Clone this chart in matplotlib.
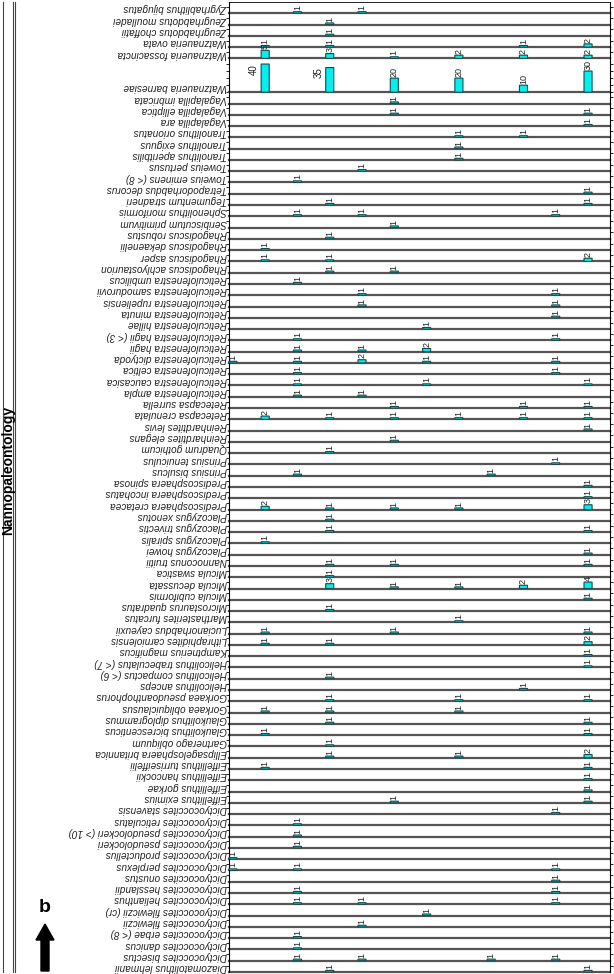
import matplotlib.pyplot as plt
from matplotlib.lines import Line2D
from matplotlib.patches import FancyArrow
from matplotlib.transforms import IdentityTransform

# species (top to bottom) and counts per sample (12 samples, left to right)
species = [
    "Zygrhablithus bijugatus", "Zeugrhabdotus moulladei", "Zeugrhabdotus choffatii",
    "Watznaueria ovata", "Watznaueria fossacincta", "Watznaueria barnesiae",
    "Vagalapilla imbricata", "Vagalapilla elliptica", "Vagalapilla ara",
    "Tranolithus orionatus", "Tranolithus exiguus", "Tranolithus aperitbilis",
    "Toweius pertusus", "Toweius eminens (< 8)", "Tetrapodorhabdus decorus",
    "Tegumentum stradneri", "Sphenolithus moriformis", "Seribiscutum primitivum",
    "Rhagodiscus robustus", "Rhagodiscus dekaenelii", "Rhagodiscus asper",
    "Rhagodiscus achlyostaurion", "Reticulofenestra umbilicus", "Reticulofenestra samodurovii",
    "Reticulofenestra rupeliensis", "Reticulofenestra minuta", "Reticulofenestra hillae",
    "Reticulofenestra hagii (< 3)", "Reticulofenestra hagii", "Reticulofenestra dictyoda",
    "Reticulofenestra celtica", "Reticulofenestra caucasica", "Reticulofenestra ampla",
    "Retecapsa surrella", "Retecapsa crenulata", "Reinhardtites levis",
    "Reinhardtites elegans", "Quadrum gothicum", "Prinsius tenuiculus",
    "Prinsius bisulcus", "Prediscosphaera spinosa", "Prediscosphaera incohatus",
    "Prediscosphaera cretacea", "Placozygus xenotus", "Placozygus trivectis",
    "Placozygus spiralis", "Placozygus howei", "Nannoconus truitii",
    "Micula swastica", "Micula decussata", "Micula cubiformis",
    "Microstaurus quadratus", "Marthasterites furcatus", "Lucianorhabdus cayeuxii",
    "Lithraphidites carniolensis", "Kamptnerius magnificus", "Helicolithus trabeculatus (< 7)",
    "Helicolithus compactus (< 6)", "Helicolithus anceps", "Gorkaea pseudoanthophorus",
    "Gorkaea obliquiclausus", "Glaukolithus diplogrammus", "Glaukolithus bicrescenticus",
    "Gartnerago obliquum", "Ellipsagelosphaera britannica", "Eiffellithus turriseiffelii",
    "Eiffellithus hancockii", "Eiffellithus gorkae", "Eiffellithus eximius",
    "Dictyococcites stavensis", "Dictyococcites reticulatus", "Dictyococcites pseudolockeri (> 10)",
    "Dictyococcites pseudolockeri", "Dictyococcites productellus", "Dictyococcites perplexus",
    "Dictyococcites onustus", "Dictyococcites hesslandii", "Dictyococcites helianthus",
    "Dictyococcites filewiczii (cr)", "Dictyococcites filewiczii", "Dictyococcites erbae (< 8)",
    "Dictyococcites danicus", "Dictyococcites bisectus", "Diazomatolithus lehmanii",
]

counts = [
    [0, 0, 1, 0, 1, 0, 0, 0, 0, 0, 0, 0],
    [0, 0, 0, 1, 0, 0, 0, 0, 0, 0, 0, 0],
    [0, 0, 0, 1, 0, 0, 0, 0, 0, 0, 0, 0],
    [0, 1, 0, 1, 0, 0, 0, 0, 0, 1, 0, 2],
    [0, 5, 0, 3, 0, 1, 0, 2, 0, 2, 0, 2],
    [0, 40, 0, 35, 0, 20, 0, 20, 0, 10, 0, 30],
    [0, 0, 0, 0, 0, 1, 0, 0, 0, 0, 0, 0],
    [0, 0, 0, 0, 0, 1, 0, 0, 0, 0, 0, 1],
    [0, 0, 0, 0, 0, 0, 0, 0, 0, 0, 0, 1],
    [0, 0, 0, 0, 0, 0, 0, 1, 0, 1, 0, 0],
    [0, 0, 0, 0, 0, 0, 0, 1, 0, 0, 0, 0],
    [0, 0, 0, 0, 0, 0, 0, 1, 0, 0, 0, 0],
    [0, 0, 0, 0, 1, 0, 0, 0, 0, 0, 0, 0],
    [0, 0, 1, 0, 0, 0, 0, 0, 0, 0, 0, 0],
    [0, 0, 0, 0, 0, 0, 0, 0, 0, 0, 0, 1],
    [0, 0, 0, 1, 0, 0, 0, 0, 0, 0, 0, 1],
    [0, 0, 1, 0, 1, 0, 0, 0, 0, 0, 1, 0],
    [0, 0, 0, 0, 0, 1, 0, 0, 0, 0, 0, 0],
    [0, 0, 0, 1, 0, 0, 0, 0, 0, 0, 0, 0],
    [0, 1, 0, 0, 0, 0, 0, 0, 0, 0, 0, 0],
    [0, 1, 0, 1, 0, 0, 0, 0, 0, 0, 0, 2],
    [0, 0, 0, 1, 0, 1, 0, 0, 0, 0, 0, 0],
    [0, 0, 1, 0, 0, 0, 0, 0, 0, 0, 0, 0],
    [0, 0, 0, 0, 1, 0, 0, 0, 0, 0, 1, 0],
    [0, 0, 0, 0, 1, 0, 0, 0, 0, 0, 1, 0],
    [0, 0, 0, 0, 0, 0, 0, 0, 0, 0, 1, 0],
    [0, 0, 0, 0, 0, 0, 1, 0, 0, 0, 0, 0],
    [0, 0, 1, 0, 0, 0, 0, 0, 0, 0, 1, 0],
    [0, 0, 1, 0, 1, 0, 2, 0, 0, 0, 0, 0],
    [1, 0, 1, 0, 2, 0, 1, 0, 0, 0, 1, 0],
    [0, 0, 1, 0, 0, 0, 0, 0, 0, 0, 1, 0],
    [0, 0, 1, 0, 0, 0, 1, 0, 0, 0, 0, 1],
    [0, 0, 1, 0, 1, 0, 0, 0, 0, 0, 0, 0],
    [0, 0, 0, 0, 0, 1, 0, 0, 0, 1, 0, 1],
    [0, 2, 0, 1, 0, 1, 0, 1, 0, 1, 0, 1],
    [0, 0, 0, 0, 0, 0, 0, 0, 0, 0, 0, 1],
    [0, 0, 0, 0, 0, 1, 0, 0, 0, 0, 0, 0],
    [0, 0, 0, 1, 0, 0, 0, 0, 0, 0, 0, 0],
    [0, 0, 0, 0, 0, 0, 0, 0, 0, 0, 1, 0],
    [0, 0, 1, 0, 0, 0, 0, 0, 1, 0, 0, 0],
    [0, 0, 0, 0, 0, 0, 0, 0, 0, 0, 0, 1],
    [0, 0, 0, 0, 0, 0, 0, 0, 0, 0, 0, 1],
    [0, 2, 0, 1, 0, 1, 0, 1, 0, 0, 0, 3],
    [0, 0, 0, 1, 0, 0, 0, 0, 0, 0, 0, 0],
    [0, 0, 0, 1, 0, 0, 0, 0, 0, 0, 0, 1],
    [0, 1, 0, 0, 0, 0, 0, 0, 0, 0, 0, 0],
    [0, 0, 0, 0, 0, 0, 0, 0, 0, 0, 0, 1],
    [0, 0, 0, 1, 0, 1, 0, 0, 0, 0, 0, 1],
    [0, 0, 0, 1, 0, 0, 0, 0, 0, 0, 0, 0],
    [0, 0, 0, 3, 0, 1, 0, 1, 0, 2, 0, 4],
    [0, 0, 0, 0, 0, 0, 0, 0, 0, 0, 0, 1],
    [0, 0, 0, 1, 0, 0, 0, 0, 0, 0, 0, 0],
    [0, 0, 0, 0, 0, 0, 0, 1, 0, 0, 0, 0],
    [0, 1, 0, 0, 0, 1, 0, 0, 0, 0, 0, 1],
    [0, 1, 0, 1, 0, 0, 0, 0, 0, 0, 0, 2],
    [0, 0, 0, 0, 0, 0, 0, 0, 0, 0, 0, 1],
    [0, 0, 0, 0, 0, 0, 0, 0, 0, 0, 0, 1],
    [0, 0, 0, 1, 0, 0, 0, 0, 0, 0, 0, 0],
    [0, 0, 0, 0, 0, 0, 0, 0, 0, 1, 0, 0],
    [0, 0, 0, 1, 0, 0, 0, 1, 0, 0, 0, 1],
    [0, 1, 0, 1, 0, 0, 0, 1, 0, 0, 0, 0],
    [0, 0, 0, 1, 0, 0, 0, 0, 0, 0, 0, 1],
    [0, 1, 0, 0, 0, 0, 0, 0, 0, 0, 0, 1],
    [0, 0, 0, 1, 0, 0, 0, 0, 0, 0, 0, 0],
    [0, 0, 0, 1, 0, 0, 0, 1, 0, 0, 0, 2],
    [0, 1, 0, 0, 0, 0, 0, 0, 0, 0, 0, 1],
    [0, 0, 0, 0, 0, 0, 0, 0, 0, 0, 0, 1],
    [0, 0, 0, 0, 0, 0, 0, 0, 0, 0, 0, 1],
    [0, 0, 0, 0, 0, 1, 0, 0, 0, 0, 0, 1],
    [0, 0, 0, 0, 0, 0, 0, 0, 0, 0, 1, 0],
    [0, 0, 1, 0, 0, 0, 0, 0, 0, 0, 0, 0],
    [0, 0, 1, 0, 0, 0, 0, 0, 0, 0, 0, 0],
    [0, 0, 1, 0, 0, 0, 0, 0, 0, 0, 0, 0],
    [1, 0, 0, 0, 0, 0, 0, 0, 0, 0, 0, 0],
    [1, 0, 1, 0, 0, 0, 0, 0, 0, 0, 1, 0],
    [0, 0, 0, 0, 0, 0, 0, 0, 0, 0, 1, 0],
    [0, 0, 1, 0, 0, 0, 0, 0, 0, 0, 1, 0],
    [0, 0, 1, 0, 1, 0, 0, 0, 0, 0, 1, 0],
    [0, 0, 0, 0, 0, 0, 1, 0, 0, 0, 0, 0],
    [0, 0, 0, 0, 1, 0, 0, 0, 0, 0, 0, 0],
    [0, 0, 1, 0, 0, 0, 0, 0, 0, 0, 0, 0],
    [0, 0, 1, 0, 0, 0, 0, 0, 0, 0, 0, 0],
    [0, 0, 1, 0, 1, 0, 0, 0, 1, 0, 1, 0],
    [0, 0, 0, 1, 0, 0, 0, 0, 0, 0, 0, 1],
]

W, H = 614, 974
fig = plt.figure(figsize=(W / 100, H / 100), dpi=100)
plt.rcParams['font.family'] = ['Liberation Sans', 'DejaVu Sans']

x0, x1 = 229, 610   # plot columns in pixels
top, bottom = 2, 972
sizes = [3 if max(c) > 16 else 1 for c in counts]
row_px = (bottom - top) / sum(sizes)

y = top
for k, (name, vals, s) in enumerate(zip(species, counts, sizes)):
    h = s * row_px
    ax = fig.add_axes([x0 / W, 1 - (y + h) / H, (x1 - x0) / W, h / H])
    y += h
    ax.patch.set_alpha(0)
    idx = [i for i, v in enumerate(vals) if v > 0]
    hv = [vals[i] for i in idx]
    bars = ax.bar(idx, hv, width=0.25, color='#00f0f0', edgecolor='#1a4a4a', linewidth=0.8,
                  zorder=3, clip_on=False)
    for b in bars:
        b.set_snap(False)
    for i, v in zip(idx, hv):
        if v > 30:
            ax.annotate(str(v), (i - 0.13, v), xytext=(-1.5, 0), textcoords='offset points',
                        rotation=90, ha='right', va='top', fontsize=7, color='#222222',
                        annotation_clip=False)
        else:
            ax.annotate(str(v), (i, v), xytext=(0, 1), textcoords='offset points',
                        rotation=90, ha='center', va='bottom', fontsize=6.5, color='#222222',
                        annotation_clip=False)
    ax.set_xlim(-0.12, 11.68)
    if s > 1:
        ax.set_ylim(0, 48)
        ax.set_yticks([0, 10, 20, 30, 40])
    else:
        ax.set_ylim(0, 7)
        ax.set_yticks([4])
    ax.set_xticks([])
    ax.tick_params(axis='y', left=True, right=True, labelleft=False, labelright=False,
                   direction='out', length=2.5, width=0.6)
    ax.spines['bottom'].set_linewidth(1.6)
    ax.spines['bottom'].set_color('#555555')
    ax.spines['bottom'].set_zorder(2)
    ax.spines['top'].set_linewidth(0.6)
    ax.spines['top'].set_visible(k == 0)
    ax.spines['left'].set_linewidth(0.8)
    ax.spines['right'].set_linewidth(0.8)
    ax.annotate(name, xy=(0, 0), xycoords='axes fraction', xytext=(-1.5, 3.5),
                textcoords='offset points', rotation=180, ha='right', va='center',
                fontsize=7.2, style='italic', color='#222222')

# left frame with group title
for xp in (3, 13, 15):
    fig.add_artist(Line2D([xp / W, xp / W], [1 - top / H, 1 - bottom / H], color='#444444', lw=0.8))
fig.text(8.5 / W, 1 - 470 / H, 'Nannopaleontology', rotation=90, fontsize=10, fontweight='bold',
         ha='center', va='center')

fig.text(45 / W, 1 - 908 / H, 'b', fontsize=14, fontweight='bold', ha='center', va='center')
fig.add_artist(FancyArrow(45, 3, 0, 47, width=8, head_width=18, head_length=16,
                          length_includes_head=True, color='black', transform=IdentityTransform()))

fig.savefig('out.png', dpi=100)
